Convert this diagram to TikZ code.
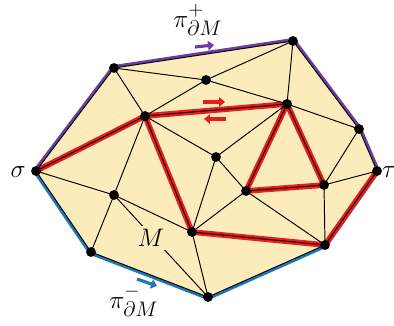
\documentclass[tikz,border=0pt]{standalone}
\usetikzlibrary{arrows.meta}
\definecolor{fillc}{RGB}{253,236,187}
\definecolor{pur}{RGB}{106,62,160}
\definecolor{blu}{RGB}{31,119,180}
\definecolor{redc}{RGB}{232,28,28}
\newcommand{\supsz}[1]{\hbox{\raise1.5pt\hbox{\fontsize{10.5}{11}\selectfont$#1$}}}
\newcommand{\subsz}[1]{\hbox{\lower1.5pt\hbox{\fontsize{12.5}{13}\selectfont$#1$}}}
\begin{document}
\begin{tikzpicture}[x=0.02cm,y=-0.02cm,
  edge/.style={line width=0.55pt,black},
  halo/.style={line width=3.2pt,redc,line cap=round},
  bnd/.style={line width=3.4pt,line join=round,line cap=round},
  dot/.style={circle,fill=black,inner sep=0pt,minimum size=5.6pt},
  arr/.style={line width=1.8pt,-{Triangle[length=3.4pt,width=5.4pt]}},
  lab/.style={inner sep=0pt,font=\fontsize{15}{16}\selectfont}]
\useasboundingbox (0,0) rectangle (394,325);
\coordinate (s) at (36,171);
\coordinate (A) at (114,68);
\coordinate (B) at (206,80);
\coordinate (C) at (293,41);
\coordinate (D) at (145,116);
\coordinate (E) at (287,104);
\coordinate (F) at (359,129);
\coordinate (t) at (377,171);
\coordinate (G) at (216,157);
\coordinate (H) at (246,191);
\coordinate (I) at (324,185);
\coordinate (J) at (114,195);
\coordinate (K) at (192,232);
\coordinate (L) at (325,245);
\coordinate (N) at (91,252);
\coordinate (O) at (208,297);
% coloured boundary
\draw[bnd,pur] (s) -- (A) -- (C) -- (F) -- (t);
\draw[bnd,blu] (s) -- (N) -- (O) -- (L) -- (t);
\fill[fillc] (s) -- (A) -- (C) -- (F) -- (t) -- (L) -- (O) -- (N) -- cycle;
% red halos
\draw[halo] (s) -- (D) -- (E) -- (H) -- (I) -- (E);
\draw[halo] (D) -- (K) -- (L) -- (t);
% thin edges
\draw[edge] (s) -- (A) -- (C) -- (F) -- (t) -- (L) -- (O) -- (N) -- cycle;
\draw[edge] (A) -- (B) (B) -- (C) (A) -- (D) (D) -- (B) (B) -- (E) (C) -- (E)
  (E) -- (F) (F) -- (I) (I) -- (t) (I) -- (L) (G) -- (E) (G) -- (D)
  (G) -- (K) (G) -- (H) (H) -- (K) (H) -- (L) (K) -- (O) (J) -- (s)
  (J) -- (K) (J) -- (N) (J) -- (D) (J) -- (O);
\draw[edge] (s) -- (D) -- (E) -- (H) -- (I) -- (E) (D) -- (K) -- (L);
% label M covering edge
\node[fill=fillc,inner sep=2pt,font=\fontsize{14.5}{16}\selectfont] (m) at (151,238) {$M$};
% dots
\foreach \p in {s,A,B,C,D,E,F,t,G,H,I,J,K,L,N,O}
  \node[dot] (d\p) at (\p) {};
% arrows
\draw[arr,pur] (195,47) -- (214,45);
\draw[arr,redc] (203,102) -- (225,102);
\draw[arr,redc] (226,119) -- (204,119);
\draw[arr,blu] (137,279) -- (157,286);
% labels
\node[lab,font=\fontsize{13.5}{15}\selectfont] (ls) at (18,172) {$\sigma$};
\node[lab,font=\fontsize{13.5}{15}\selectfont] (lt) at (389,172) {$\tau$};
\node[lab,anchor=base west] (lp) at (173,27) {$\pi^{\supsz{+}}_{\subsz{\partial M}}$};
\node[lab,anchor=base west] (lm) at (109,308) {$\pi^{\supsz{-}}_{\subsz{\partial M}}$};
\end{tikzpicture}
\end{document}
